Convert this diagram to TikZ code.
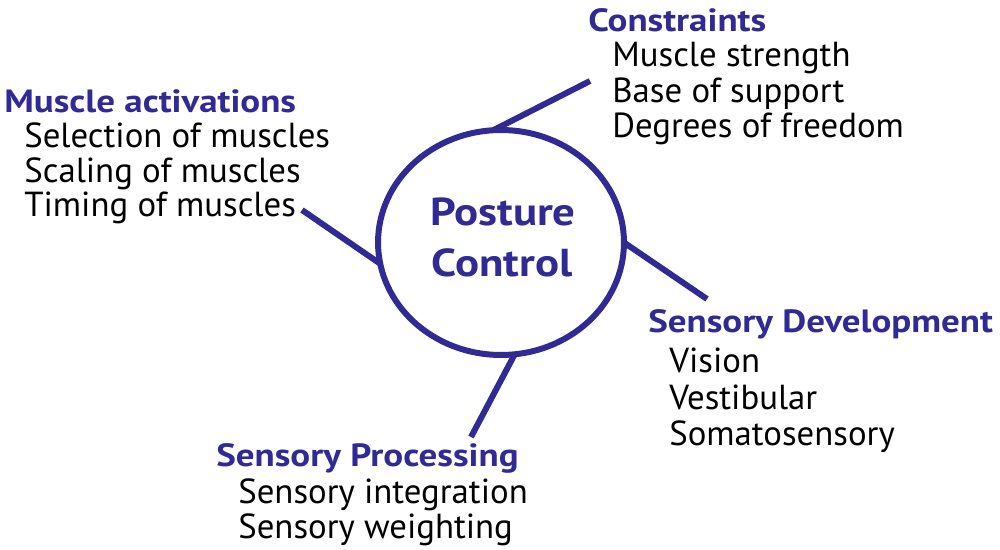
\documentclass[tikz,border=0pt]{standalone}
\usepackage{fontspec}
\setmainfont{PT Sans}
\newfontfamily\headfamily[FakeStretch=1.15]{PT Sans}
\usetikzlibrary{shapes.geometric}
\definecolor{postblue}{RGB}{49,41,148}
\tikzset{
  head/.style={font=\headfamily\fontsize{18.3}{20}\selectfont\bfseries, text=postblue},
  centre/.style={font=\headfamily\fontsize{22.2}{24}\selectfont\bfseries, text=postblue},
  item/.style={font=\fontsize{19.8}{20}\selectfont, text=black},
  spoke/.style={draw=postblue, line width=3.4pt}
}

\begin{document}
\begin{tikzpicture}[x=0.02cm,y=-0.02cm,every node/.append style={inner sep=0pt,
                    anchor=base west}]
    \useasboundingbox (0,0) rectangle (1000,550);
    % centre
    \node[ellipse, draw=postblue, line width=3.4pt, outer sep=0pt, anchor=center,
          minimum width=4.92cm, minimum height=4.5cm] (pc) at (501,242.5) {};
    \node[centre, anchor=base] (posture) at (503,226) {Posture};
    \node[centre, anchor=base] (control) at (502,277) {Control};
    % spokes
    \coordinate (con-end) at (590,81);
    \coordinate (mus-end) at (302,210);
    \coordinate (dev-end) at (707,299);
    \coordinate (pro-end) at (471,437);
    \draw[spoke] (pc.94) -- (con-end);
    \draw[spoke] (pc.190) -- (mus-end);
    \draw[spoke] (pc.0) -- (dev-end);
    \draw[spoke] (pc.277) -- (pro-end);
    % constraints
    \node[head] (con) at (588,32) {Constraints};
    \node[item] (con-1) at (612,67) {Muscle strength};
    \node[item] (con-2) at (612,102.5) {Base of support};
    \node[item] (con-3) at (612,138) {Degrees of freedom};
    % muscle activations
    \node[head] (mus) at (4,113) {Muscle activations};
    \node[item] (mus-1) at (24,148) {Selection of muscles};
    \node[item] (mus-2) at (24,183) {Scaling of muscles};
    \node[item] (mus-3) at (24,217) {Timing of muscles};
    % sensory development
    \node[head] (dev) at (648,333) {Sensory Development};
    \node[item] (dev-1) at (669,372.5) {Vision};
    \node[item] (dev-2) at (669,409) {Vestibular};
    \node[item] (dev-3) at (669,445) {Somatosensory};
    % sensory processing
    \node[head] (pro) at (216,466) {Sensory Processing};
    \node[item] (pro-1) at (238,503) {Sensory integration};
    \node[item] (pro-2) at (238,538) {Sensory weighting};
\end{tikzpicture}
\end{document}
